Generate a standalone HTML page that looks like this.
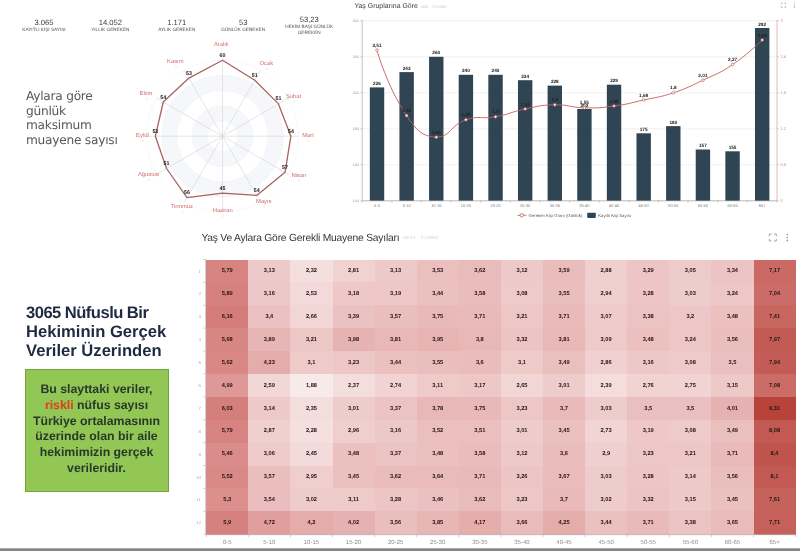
<!DOCTYPE html>
<html lang="tr">
<head>
<meta charset="utf-8">
<title>Yaş Ve Aylara Göre Gerekli Muayene Sayıları</title>
<style>
html,body{margin:0;padding:0;background:#fff;}
body{text-rendering:geometricPrecision;width:800px;height:551px;position:relative;overflow:hidden;font-family:"Liberation Sans",sans-serif;}
#page{position:absolute;left:0;top:0;width:800px;height:551px;overflow:hidden;filter:blur(0.45px);}
.stat{position:absolute;top:0;width:66px;text-align:center;color:#444;}
.stat .v{position:absolute;left:0;width:66px;font-size:7.6px;line-height:9px;color:#3a3a3a;}
.stat .l{position:absolute;left:-4px;width:74px;font-size:4.3px;line-height:6.4px;color:#555;letter-spacing:0.05px;}
.lefttxt{position:absolute;left:26px;top:89px;font-family:"DejaVu Sans","Liberation Sans",sans-serif;font-weight:400;font-size:12.2px;line-height:14.6px;color:#585858;letter-spacing:-0.25px;}
.bigtitle{position:absolute;left:26px;top:303px;font-family:"Liberation Sans",sans-serif;font-weight:700;font-size:16.6px;line-height:19.1px;color:#1f2a40;white-space:nowrap;}
.green{position:absolute;left:24.5px;top:368.5px;width:144px;height:123px;background:#92c655;border:1px solid #6fa53a;box-sizing:border-box;}
.green p{margin:0;position:absolute;left:0;top:12.5px;width:100%;text-align:center;font-weight:700;font-size:12.3px;line-height:15.75px;color:#27392a;white-space:nowrap;}
.green .r{color:#e23a1c;}
svg{position:absolute;left:0;top:0;overflow:visible;}
svg text{font-family:"Liberation Sans",sans-serif;text-rendering:geometricPrecision;}
.bottombar{position:absolute;left:0;top:548px;width:800px;height:3px;background:linear-gradient(#c9c9c9 0,#8a8a8a 1px,#7f7f7f 3px);}
</style>
</head>
<body>
<div id="page">

<div class="lefttxt">Aylara göre<br>günlük<br>maksimum<br>muayene sayısı</div>
<div class="bigtitle"><span style="letter-spacing:-0.54px">3065 Nüfuslu Bir</span><br>Hekiminin Gerçek<br>Veriler Üzerinden</div>
<div class="green"><p>Bu slayttaki veriler,<br><span class="r">riskli</span> nüfus sayısı<br>Türkiye ortalamasının<br>üzerinde olan bir aile<br>hekimimizin gerçek<br>verileridir.</p></div>
<svg width="800" height="551" viewBox="0 0 800 551">
<g id="stats">
<text x="44" y="24.6" font-size="7.6" fill="#3c3c3c" text-anchor="middle">3.065</text>
<text x="44" y="31" font-size="4.7" fill="#4c4c4c" text-anchor="middle">KAYITLI KİŞİ SAYISI</text>
<text x="110.3" y="24.6" font-size="7.6" fill="#3c3c3c" text-anchor="middle">14.052</text>
<text x="110.3" y="31" font-size="4.7" fill="#4c4c4c" text-anchor="middle">YILLIK GEREKEN</text>
<text x="176.8" y="24.6" font-size="7.6" fill="#3c3c3c" text-anchor="middle">1.171</text>
<text x="176.8" y="31" font-size="4.7" fill="#4c4c4c" text-anchor="middle">AYLIK GEREKEN</text>
<text x="243.2" y="24.6" font-size="7.6" fill="#3c3c3c" text-anchor="middle">53</text>
<text x="243.2" y="31" font-size="4.7" fill="#4c4c4c" text-anchor="middle">GÜNLÜK GEREKEN</text>
<text x="309.2" y="21.6" font-size="7.6" fill="#3c3c3c" text-anchor="middle">53,23</text>
<text x="309.2" y="28" font-size="4.7" fill="#4c4c4c" text-anchor="middle">HEKİM BAŞI GÜNLÜK</text>
<text x="309.2" y="34.4" font-size="4.7" fill="#4c4c4c" text-anchor="middle">GEREKEN</text>
</g>
<g id="radar">
<circle cx="222.5" cy="136.2" r="76" fill="#ffffff" stroke="#eceef3" stroke-width="0.4"/>
<circle cx="222.5" cy="136.2" r="60.8" fill="#f6f7fb" stroke="#eceef3" stroke-width="0.4"/>
<circle cx="222.5" cy="136.2" r="45.6" fill="#ffffff" stroke="#eceef3" stroke-width="0.4"/>
<circle cx="222.5" cy="136.2" r="30.4" fill="#f6f7fb" stroke="#eceef3" stroke-width="0.4"/>
<circle cx="222.5" cy="136.2" r="15.2" fill="#ffffff" stroke="#eceef3" stroke-width="0.4"/>
<line x1="222.5" y1="136.2" x2="222.5" y2="60.2" stroke="#d2d4da" stroke-width="0.6"/>
<line x1="222.5" y1="136.2" x2="260.5" y2="70.38" stroke="#d2d4da" stroke-width="0.6"/>
<line x1="222.5" y1="136.2" x2="288.32" y2="98.2" stroke="#d2d4da" stroke-width="0.6"/>
<line x1="222.5" y1="136.2" x2="298.5" y2="136.2" stroke="#d2d4da" stroke-width="0.6"/>
<line x1="222.5" y1="136.2" x2="288.32" y2="174.2" stroke="#d2d4da" stroke-width="0.6"/>
<line x1="222.5" y1="136.2" x2="260.5" y2="202.02" stroke="#d2d4da" stroke-width="0.6"/>
<line x1="222.5" y1="136.2" x2="222.5" y2="212.2" stroke="#d2d4da" stroke-width="0.6"/>
<line x1="222.5" y1="136.2" x2="184.5" y2="202.02" stroke="#d2d4da" stroke-width="0.6"/>
<line x1="222.5" y1="136.2" x2="156.68" y2="174.2" stroke="#d2d4da" stroke-width="0.6"/>
<line x1="222.5" y1="136.2" x2="146.5" y2="136.2" stroke="#d2d4da" stroke-width="0.6"/>
<line x1="222.5" y1="136.2" x2="156.68" y2="98.2" stroke="#d2d4da" stroke-width="0.6"/>
<line x1="222.5" y1="136.2" x2="184.5" y2="70.38" stroke="#d2d4da" stroke-width="0.6"/>
<polygon points="222.5,60.2 254.8,80.25 278.45,103.9 290.9,136.2 285.03,172.3 256.7,195.44 222.5,193.2 187.03,197.63 166.55,168.5 155.37,136.2 163.26,102 188.93,78.06" fill="none" stroke="#a8635e" stroke-width="1.3" stroke-linejoin="round"/>
<text x="222.5" y="56.7" font-size="5.3" font-weight="700" fill="#222" text-anchor="middle">60</text>
<text x="254.8" y="76.75" font-size="5.3" font-weight="700" fill="#222" text-anchor="middle">51</text>
<text x="278.45" y="100.4" font-size="5.3" font-weight="700" fill="#222" text-anchor="middle">51</text>
<text x="290.9" y="132.7" font-size="5.3" font-weight="700" fill="#222" text-anchor="middle">54</text>
<text x="285.03" y="168.8" font-size="5.3" font-weight="700" fill="#222" text-anchor="middle">57</text>
<text x="256.7" y="191.94" font-size="5.3" font-weight="700" fill="#222" text-anchor="middle">54</text>
<text x="222.5" y="189.7" font-size="5.3" font-weight="700" fill="#222" text-anchor="middle">45</text>
<text x="187.03" y="194.13" font-size="5.3" font-weight="700" fill="#222" text-anchor="middle">56</text>
<text x="166.55" y="165" font-size="5.3" font-weight="700" fill="#222" text-anchor="middle">51</text>
<text x="155.37" y="132.7" font-size="5.3" font-weight="700" fill="#222" text-anchor="middle">53</text>
<text x="163.26" y="98.5" font-size="5.3" font-weight="700" fill="#222" text-anchor="middle">54</text>
<text x="188.93" y="74.56" font-size="5.3" font-weight="700" fill="#222" text-anchor="middle">53</text>
<text x="221.3" y="46.2" font-size="5.8" fill="#d06c6c" text-anchor="middle">Aralık</text>
<text x="221.8" y="51.2" font-size="3.6" fill="#dcdcdc" text-anchor="middle">0</text>
<text x="266.3" y="64.6" font-size="5.8" fill="#d06c6c" text-anchor="middle">Ocak</text>
<text x="266.8" y="69.6" font-size="3.6" fill="#dcdcdc" text-anchor="middle">0</text>
<text x="293.5" y="97.5" font-size="5.8" fill="#d06c6c" text-anchor="middle">Şubat</text>
<text x="294" y="102.5" font-size="3.6" fill="#dcdcdc" text-anchor="middle">0</text>
<text x="308" y="137.1" font-size="5.8" fill="#d06c6c" text-anchor="middle">Mart</text>
<text x="308.5" y="142.1" font-size="3.6" fill="#dcdcdc" text-anchor="middle">0</text>
<text x="298.8" y="177.1" font-size="5.8" fill="#d06c6c" text-anchor="middle">Nisan</text>
<text x="299.3" y="182.1" font-size="3.6" fill="#dcdcdc" text-anchor="middle">0</text>
<text x="263.8" y="203" font-size="5.8" fill="#d06c6c" text-anchor="middle">Mayıs</text>
<text x="264.3" y="208" font-size="3.6" fill="#dcdcdc" text-anchor="middle">0</text>
<text x="222.7" y="211.5" font-size="5.8" fill="#d06c6c" text-anchor="middle">Haziran</text>
<text x="223.2" y="216.5" font-size="3.6" fill="#dcdcdc" text-anchor="middle">0</text>
<text x="182" y="208" font-size="5.8" fill="#d06c6c" text-anchor="middle">Temmuz</text>
<text x="182.5" y="213" font-size="3.6" fill="#dcdcdc" text-anchor="middle">0</text>
<text x="148.4" y="176.4" font-size="5.8" fill="#d06c6c" text-anchor="middle">Ağustos</text>
<text x="148.9" y="181.4" font-size="3.6" fill="#dcdcdc" text-anchor="middle">0</text>
<text x="142.4" y="137.1" font-size="5.8" fill="#d06c6c" text-anchor="middle">Eylül</text>
<text x="142.9" y="142.1" font-size="3.6" fill="#dcdcdc" text-anchor="middle">0</text>
<text x="146" y="95" font-size="5.8" fill="#d06c6c" text-anchor="middle">Ekim</text>
<text x="146.5" y="100" font-size="3.6" fill="#dcdcdc" text-anchor="middle">0</text>
<text x="175.3" y="62.8" font-size="5.8" fill="#d06c6c" text-anchor="middle">Kasım</text>
<text x="175.8" y="67.8" font-size="3.6" fill="#dcdcdc" text-anchor="middle">0</text>
</g>
<g id="barchart">
<text x="354.4" y="8.3" font-size="6.95" fill="#404040">Yaş Gruplarına Göre</text>
<text x="421.4" y="8" font-size="3.7" fill="#c4c4c4" letter-spacing="0.2">MIX · FL0984</text>
<line x1="360.2" y1="200.8" x2="362.2" y2="200.8" stroke="#aaa" stroke-width="0.5"/>
<text x="358.7" y="202" font-size="3.5" fill="#8f8f8f" text-anchor="end">100</text>
<line x1="362.2" y1="164.8" x2="777.0" y2="164.8" stroke="#e6e6e6" stroke-width="0.6"/>
<line x1="360.2" y1="164.8" x2="362.2" y2="164.8" stroke="#aaa" stroke-width="0.5"/>
<text x="358.7" y="166" font-size="3.5" fill="#8f8f8f" text-anchor="end">140</text>
<line x1="362.2" y1="128.8" x2="777.0" y2="128.8" stroke="#e6e6e6" stroke-width="0.6"/>
<line x1="360.2" y1="128.8" x2="362.2" y2="128.8" stroke="#aaa" stroke-width="0.5"/>
<text x="358.7" y="130" font-size="3.5" fill="#8f8f8f" text-anchor="end">180</text>
<line x1="362.2" y1="92.8" x2="777.0" y2="92.8" stroke="#e6e6e6" stroke-width="0.6"/>
<line x1="360.2" y1="92.8" x2="362.2" y2="92.8" stroke="#aaa" stroke-width="0.5"/>
<text x="358.7" y="94" font-size="3.5" fill="#8f8f8f" text-anchor="end">220</text>
<line x1="362.2" y1="56.8" x2="777.0" y2="56.8" stroke="#e6e6e6" stroke-width="0.6"/>
<line x1="360.2" y1="56.8" x2="362.2" y2="56.8" stroke="#aaa" stroke-width="0.5"/>
<text x="358.7" y="58" font-size="3.5" fill="#8f8f8f" text-anchor="end">260</text>
<line x1="362.2" y1="20.8" x2="777.0" y2="20.8" stroke="#e6e6e6" stroke-width="0.6"/>
<line x1="360.2" y1="20.8" x2="362.2" y2="20.8" stroke="#aaa" stroke-width="0.5"/>
<text x="358.7" y="22" font-size="3.5" fill="#8f8f8f" text-anchor="end">300</text>
<line x1="777.0" y1="200.8" x2="779.0" y2="200.8" stroke="#d99" stroke-width="0.5"/>
<text x="780.5" y="202" font-size="4" fill="#d88" text-anchor="start">0</text>
<line x1="777.0" y1="164.8" x2="779.0" y2="164.8" stroke="#d99" stroke-width="0.5"/>
<text x="780.5" y="166" font-size="4" fill="#d88" text-anchor="start">0.6</text>
<line x1="777.0" y1="128.8" x2="779.0" y2="128.8" stroke="#d99" stroke-width="0.5"/>
<text x="780.5" y="130" font-size="4" fill="#d88" text-anchor="start">1.2</text>
<line x1="777.0" y1="92.8" x2="779.0" y2="92.8" stroke="#d99" stroke-width="0.5"/>
<text x="780.5" y="94" font-size="4" fill="#d88" text-anchor="start">1.8</text>
<line x1="777.0" y1="56.8" x2="779.0" y2="56.8" stroke="#d99" stroke-width="0.5"/>
<text x="780.5" y="58" font-size="4" fill="#d88" text-anchor="start">2.4</text>
<line x1="777.0" y1="20.8" x2="779.0" y2="20.8" stroke="#d99" stroke-width="0.5"/>
<text x="780.5" y="22" font-size="4" fill="#d88" text-anchor="start">3</text>
<rect x="369.81" y="87.4" width="14.4" height="113.4" fill="#2f4554"/>
<rect x="399.44" y="72.1" width="14.4" height="128.7" fill="#2f4554"/>
<rect x="429.07" y="56.8" width="14.4" height="144" fill="#2f4554"/>
<rect x="458.7" y="74.8" width="14.4" height="126" fill="#2f4554"/>
<rect x="488.33" y="74.8" width="14.4" height="126" fill="#2f4554"/>
<rect x="517.96" y="80.2" width="14.4" height="120.6" fill="#2f4554"/>
<rect x="547.59" y="85.6" width="14.4" height="115.2" fill="#2f4554"/>
<rect x="577.21" y="109" width="14.4" height="91.8" fill="#2f4554"/>
<rect x="606.84" y="84.7" width="14.4" height="116.1" fill="#2f4554"/>
<rect x="636.47" y="133.3" width="14.4" height="67.5" fill="#2f4554"/>
<rect x="666.1" y="126.1" width="14.4" height="74.7" fill="#2f4554"/>
<rect x="695.73" y="149.5" width="14.4" height="51.3" fill="#2f4554"/>
<rect x="725.36" y="151.3" width="14.4" height="49.5" fill="#2f4554"/>
<rect x="754.99" y="28" width="14.4" height="172.8" fill="#2f4554"/>
<line x1="362.2" y1="20" x2="362.2" y2="200.8" stroke="#999" stroke-width="0.6"/>
<line x1="777.0" y1="20" x2="777.0" y2="200.8" stroke="#d58a86" stroke-width="0.6"/>
<line x1="362.2" y1="200.8" x2="777.0" y2="200.8" stroke="#888" stroke-width="0.6"/>
<line x1="362.2" y1="200.8" x2="362.2" y2="202.60000000000002" stroke="#999" stroke-width="0.5"/>
<line x1="391.83" y1="200.8" x2="391.83" y2="202.60000000000002" stroke="#999" stroke-width="0.5"/>
<line x1="421.46" y1="200.8" x2="421.46" y2="202.60000000000002" stroke="#999" stroke-width="0.5"/>
<line x1="451.09" y1="200.8" x2="451.09" y2="202.60000000000002" stroke="#999" stroke-width="0.5"/>
<line x1="480.71" y1="200.8" x2="480.71" y2="202.60000000000002" stroke="#999" stroke-width="0.5"/>
<line x1="510.34" y1="200.8" x2="510.34" y2="202.60000000000002" stroke="#999" stroke-width="0.5"/>
<line x1="539.97" y1="200.8" x2="539.97" y2="202.60000000000002" stroke="#999" stroke-width="0.5"/>
<line x1="569.6" y1="200.8" x2="569.6" y2="202.60000000000002" stroke="#999" stroke-width="0.5"/>
<line x1="599.23" y1="200.8" x2="599.23" y2="202.60000000000002" stroke="#999" stroke-width="0.5"/>
<line x1="628.86" y1="200.8" x2="628.86" y2="202.60000000000002" stroke="#999" stroke-width="0.5"/>
<line x1="658.49" y1="200.8" x2="658.49" y2="202.60000000000002" stroke="#999" stroke-width="0.5"/>
<line x1="688.11" y1="200.8" x2="688.11" y2="202.60000000000002" stroke="#999" stroke-width="0.5"/>
<line x1="717.74" y1="200.8" x2="717.74" y2="202.60000000000002" stroke="#999" stroke-width="0.5"/>
<line x1="747.37" y1="200.8" x2="747.37" y2="202.60000000000002" stroke="#999" stroke-width="0.5"/>
<line x1="777" y1="200.8" x2="777" y2="202.60000000000002" stroke="#999" stroke-width="0.5"/>
<text x="377.01" y="207.2" font-size="4" fill="#7d7d7d" text-anchor="middle">0-5</text>
<text x="406.64" y="207.2" font-size="4" fill="#7d7d7d" text-anchor="middle">5-10</text>
<text x="436.27" y="207.2" font-size="4" fill="#7d7d7d" text-anchor="middle">10-15</text>
<text x="465.9" y="207.2" font-size="4" fill="#7d7d7d" text-anchor="middle">15-20</text>
<text x="495.53" y="207.2" font-size="4" fill="#7d7d7d" text-anchor="middle">20-25</text>
<text x="525.16" y="207.2" font-size="4" fill="#7d7d7d" text-anchor="middle">25-30</text>
<text x="554.79" y="207.2" font-size="4" fill="#7d7d7d" text-anchor="middle">30-35</text>
<text x="584.41" y="207.2" font-size="4" fill="#7d7d7d" text-anchor="middle">35-40</text>
<text x="614.04" y="207.2" font-size="4" fill="#7d7d7d" text-anchor="middle">40-45</text>
<text x="643.67" y="207.2" font-size="4" fill="#7d7d7d" text-anchor="middle">45-50</text>
<text x="673.3" y="207.2" font-size="4" fill="#7d7d7d" text-anchor="middle">50-55</text>
<text x="702.93" y="207.2" font-size="4" fill="#7d7d7d" text-anchor="middle">55-60</text>
<text x="732.56" y="207.2" font-size="4" fill="#7d7d7d" text-anchor="middle">60-65</text>
<text x="762.19" y="207.2" font-size="4" fill="#7d7d7d" text-anchor="middle">65+</text>
<text x="377.01" y="84.9" font-size="4.7" font-weight="700" fill="#222" text-anchor="middle">226</text>
<text x="406.64" y="69.6" font-size="4.7" font-weight="700" fill="#222" text-anchor="middle">243</text>
<text x="436.27" y="54.3" font-size="4.7" font-weight="700" fill="#222" text-anchor="middle">260</text>
<text x="465.9" y="72.3" font-size="4.7" font-weight="700" fill="#222" text-anchor="middle">240</text>
<text x="495.53" y="72.3" font-size="4.7" font-weight="700" fill="#222" text-anchor="middle">240</text>
<text x="525.16" y="77.7" font-size="4.7" font-weight="700" fill="#222" text-anchor="middle">234</text>
<text x="554.79" y="83.1" font-size="4.7" font-weight="700" fill="#222" text-anchor="middle">228</text>
<text x="584.41" y="106.5" font-size="4.7" font-weight="700" fill="#222" text-anchor="middle">202</text>
<text x="614.04" y="82.2" font-size="4.7" font-weight="700" fill="#222" text-anchor="middle">229</text>
<text x="643.67" y="130.8" font-size="4.7" font-weight="700" fill="#222" text-anchor="middle">175</text>
<text x="673.3" y="123.6" font-size="4.7" font-weight="700" fill="#222" text-anchor="middle">183</text>
<text x="702.93" y="147" font-size="4.7" font-weight="700" fill="#222" text-anchor="middle">157</text>
<text x="732.56" y="148.8" font-size="4.7" font-weight="700" fill="#222" text-anchor="middle">155</text>
<text x="762.19" y="25.5" font-size="4.7" font-weight="700" fill="#222" text-anchor="middle">292</text>
<path d="M377.01,50.2 C377.01,50.2 387.03,86.81 406.64,115.6 C416.66,130.31 420.98,136.12 436.27,137.2 C450.6,137.2 450.03,125.26 465.9,119.8 C479.66,115.06 480.92,119.46 495.53,116.8 C510.55,114.06 510.17,112.04 525.16,109 C539.8,106.04 539.94,105.1 554.79,104.8 C569.56,104.5 569.58,107.5 584.41,107.8 C599.2,108.1 599.36,107.93 614.04,106 C628.99,104.03 628.92,103.29 643.67,100 C658.55,96.69 658.89,97.62 673.3,92.8 C688.52,87.72 688.4,87.11 702.93,80.2 C718.03,73.01 718.78,73.95 732.56,64.6 C748.41,53.85 762.19,40 762.19,40" fill="none" stroke="#c0615c" stroke-width="0.9"/>
<circle cx="377.01" cy="50.2" r="1.35" fill="#fff" stroke="#c0615c" stroke-width="0.7"/>
<circle cx="406.64" cy="115.6" r="1.35" fill="#fff" stroke="#c0615c" stroke-width="0.7"/>
<circle cx="436.27" cy="137.2" r="1.35" fill="#fff" stroke="#c0615c" stroke-width="0.7"/>
<circle cx="465.9" cy="119.8" r="1.35" fill="#fff" stroke="#c0615c" stroke-width="0.7"/>
<circle cx="495.53" cy="116.8" r="1.35" fill="#fff" stroke="#c0615c" stroke-width="0.7"/>
<circle cx="525.16" cy="109" r="1.35" fill="#fff" stroke="#c0615c" stroke-width="0.7"/>
<circle cx="554.79" cy="104.8" r="1.35" fill="#fff" stroke="#c0615c" stroke-width="0.7"/>
<circle cx="584.41" cy="107.8" r="1.35" fill="#fff" stroke="#c0615c" stroke-width="0.7"/>
<circle cx="614.04" cy="106" r="1.35" fill="#fff" stroke="#c0615c" stroke-width="0.7"/>
<circle cx="643.67" cy="100" r="1.35" fill="#fff" stroke="#c0615c" stroke-width="0.7"/>
<circle cx="673.3" cy="92.8" r="1.35" fill="#fff" stroke="#c0615c" stroke-width="0.7"/>
<circle cx="702.93" cy="80.2" r="1.35" fill="#fff" stroke="#c0615c" stroke-width="0.7"/>
<circle cx="732.56" cy="64.6" r="1.35" fill="#fff" stroke="#c0615c" stroke-width="0.7"/>
<circle cx="762.19" cy="40" r="1.35" fill="#fff" stroke="#c0615c" stroke-width="0.7"/>
<text x="377.01" y="46.7" font-size="4.7" font-weight="700" fill="#222" text-anchor="middle">2,51</text>
<text x="406.64" y="112.1" font-size="4.7" font-weight="700" fill="#222" text-anchor="middle">1,42</text>
<text x="436.27" y="133.7" font-size="4.7" font-weight="700" fill="#222" text-anchor="middle">1,06</text>
<text x="465.9" y="116.3" font-size="4.7" font-weight="700" fill="#222" text-anchor="middle">1,35</text>
<text x="495.53" y="113.3" font-size="4.7" font-weight="700" fill="#222" text-anchor="middle">1,4</text>
<text x="525.16" y="105.5" font-size="4.7" font-weight="700" fill="#222" text-anchor="middle">1,53</text>
<text x="554.79" y="101.3" font-size="4.7" font-weight="700" fill="#222" text-anchor="middle">1,6</text>
<text x="584.41" y="104.3" font-size="4.7" font-weight="700" fill="#222" text-anchor="middle">1,55</text>
<text x="614.04" y="102.5" font-size="4.7" font-weight="700" fill="#222" text-anchor="middle">1,58</text>
<text x="643.67" y="96.5" font-size="4.7" font-weight="700" fill="#222" text-anchor="middle">1,68</text>
<text x="673.3" y="89.3" font-size="4.7" font-weight="700" fill="#222" text-anchor="middle">1,8</text>
<text x="702.93" y="76.7" font-size="4.7" font-weight="700" fill="#222" text-anchor="middle">2,01</text>
<text x="732.56" y="61.1" font-size="4.7" font-weight="700" fill="#222" text-anchor="middle">2,27</text>
<text x="762.19" y="36.5" font-size="4.7" font-weight="700" fill="#222" text-anchor="middle">2,68</text>
<line x1="517.5" y1="215.3" x2="526.2" y2="215.3" stroke="#c4625c" stroke-width="0.9"/>
<circle cx="521.8" cy="215.3" r="1.7" fill="#fff" stroke="#c4625c" stroke-width="0.8"/>
<text x="528.6" y="216.7" font-size="4.25" fill="#555">Gereken Kişi Oranı (Günlük)</text>
<rect x="587.2" y="212.7" width="8.6" height="5.2" rx="0.8" fill="#2f4554"/>
<text x="598.2" y="216.7" font-size="4.25" fill="#555">Kayıtlı Kişi Sayısı</text>
<path d="M781.3,4.41 V3 H782.71 M784.29,3 H785.7 V4.41 M785.7,5.99 V7.4 H784.29 M782.71,7.4 H781.3 V5.99" fill="none" stroke="#9a9a9a" stroke-width="0.57"/>
<circle cx="794.3" cy="3.22" r="0.57" fill="#9a9a9a"/><circle cx="794.3" cy="5.2" r="0.57" fill="#9a9a9a"/><circle cx="794.3" cy="7.18" r="0.57" fill="#9a9a9a"/>
</g>
<g id="heatmap">
<text x="201.4" y="241" font-size="10.3" letter-spacing="-0.22" fill="#363636">Yaş Ve Aylara Göre Gerekli Muayene Sayıları</text>
<text x="403" y="239.3" font-size="4.4" fill="#cfcfcf" letter-spacing="0.45">HEAT · FL0982</text>
<path d="M769.3,236.24 V234 H771.54 M774.06,234 H776.3 V236.24 M776.3,238.76 V241 H774.06 M771.54,241 H769.3 V238.76" fill="none" stroke="#9a9a9a" stroke-width="0.91"/>
<circle cx="787.3" cy="234.54" r="0.86" fill="#9a9a9a"/><circle cx="787.3" cy="237.5" r="0.86" fill="#9a9a9a"/><circle cx="787.3" cy="240.46" r="0.86" fill="#9a9a9a"/>
<rect x="206.2" y="259.5" width="42.6" height="23.39" shape-rendering="crispEdges" fill="#d78381"/>
<rect x="248.3" y="259.5" width="42.6" height="23.39" shape-rendering="crispEdges" fill="#edc9c9"/>
<rect x="290.4" y="259.5" width="42.6" height="23.39" shape-rendering="crispEdges" fill="#f4dede"/>
<rect x="332.5" y="259.5" width="42.6" height="23.39" shape-rendering="crispEdges" fill="#f0d2d1"/>
<rect x="374.6" y="259.5" width="42.6" height="23.39" shape-rendering="crispEdges" fill="#edc9c9"/>
<rect x="416.7" y="259.5" width="42.6" height="23.39" shape-rendering="crispEdges" fill="#eabfbe"/>
<rect x="458.8" y="259.5" width="42.6" height="23.39" shape-rendering="crispEdges" fill="#e9bcbb"/>
<rect x="500.9" y="259.5" width="42.6" height="23.39" shape-rendering="crispEdges" fill="#eec9c9"/>
<rect x="543" y="259.5" width="42.6" height="23.39" shape-rendering="crispEdges" fill="#eabdbc"/>
<rect x="585.1" y="259.5" width="42.6" height="23.39" shape-rendering="crispEdges" fill="#f0d0cf"/>
<rect x="627.2" y="259.5" width="42.6" height="23.39" shape-rendering="crispEdges" fill="#ecc5c4"/>
<rect x="669.3" y="259.5" width="42.6" height="23.39" shape-rendering="crispEdges" fill="#eecbcb"/>
<rect x="711.4" y="259.5" width="42.6" height="23.39" shape-rendering="crispEdges" fill="#ecc4c3"/>
<rect x="753.5" y="259.5" width="42.6" height="23.39" shape-rendering="crispEdges" fill="#cb6a65"/>
<rect x="206.2" y="282.39" width="42.6" height="23.39" shape-rendering="crispEdges" fill="#d6817f"/>
<rect x="248.3" y="282.39" width="42.6" height="23.39" shape-rendering="crispEdges" fill="#edc8c8"/>
<rect x="290.4" y="282.39" width="42.6" height="23.39" shape-rendering="crispEdges" fill="#f3d9d9"/>
<rect x="332.5" y="282.39" width="42.6" height="23.39" shape-rendering="crispEdges" fill="#edc8c7"/>
<rect x="374.6" y="282.39" width="42.6" height="23.39" shape-rendering="crispEdges" fill="#edc8c7"/>
<rect x="416.7" y="282.39" width="42.6" height="23.39" shape-rendering="crispEdges" fill="#ebc1c0"/>
<rect x="458.8" y="282.39" width="42.6" height="23.39" shape-rendering="crispEdges" fill="#eabdbc"/>
<rect x="500.9" y="282.39" width="42.6" height="23.39" shape-rendering="crispEdges" fill="#eecaca"/>
<rect x="543" y="282.39" width="42.6" height="23.39" shape-rendering="crispEdges" fill="#eabebd"/>
<rect x="585.1" y="282.39" width="42.6" height="23.39" shape-rendering="crispEdges" fill="#efcece"/>
<rect x="627.2" y="282.39" width="42.6" height="23.39" shape-rendering="crispEdges" fill="#ecc5c4"/>
<rect x="669.3" y="282.39" width="42.6" height="23.39" shape-rendering="crispEdges" fill="#eecccb"/>
<rect x="711.4" y="282.39" width="42.6" height="23.39" shape-rendering="crispEdges" fill="#edc6c6"/>
<rect x="753.5" y="282.39" width="42.6" height="23.39" shape-rendering="crispEdges" fill="#cc6c68"/>
<rect x="206.2" y="305.28" width="42.6" height="23.39" shape-rendering="crispEdges" fill="#d47c7a"/>
<rect x="248.3" y="305.28" width="42.6" height="23.39" shape-rendering="crispEdges" fill="#ebc2c1"/>
<rect x="290.4" y="305.28" width="42.6" height="23.39" shape-rendering="crispEdges" fill="#f1d6d5"/>
<rect x="332.5" y="305.28" width="42.6" height="23.39" shape-rendering="crispEdges" fill="#ebc2c2"/>
<rect x="374.6" y="305.28" width="42.6" height="23.39" shape-rendering="crispEdges" fill="#eabebd"/>
<rect x="416.7" y="305.28" width="42.6" height="23.39" shape-rendering="crispEdges" fill="#e8b9b8"/>
<rect x="458.8" y="305.28" width="42.6" height="23.39" shape-rendering="crispEdges" fill="#e9bab9"/>
<rect x="500.9" y="305.28" width="42.6" height="23.39" shape-rendering="crispEdges" fill="#edc7c6"/>
<rect x="543" y="305.28" width="42.6" height="23.39" shape-rendering="crispEdges" fill="#e9bab9"/>
<rect x="585.1" y="305.28" width="42.6" height="23.39" shape-rendering="crispEdges" fill="#eecbca"/>
<rect x="627.2" y="305.28" width="42.6" height="23.39" shape-rendering="crispEdges" fill="#ebc3c2"/>
<rect x="669.3" y="305.28" width="42.6" height="23.39" shape-rendering="crispEdges" fill="#edc7c7"/>
<rect x="711.4" y="305.28" width="42.6" height="23.39" shape-rendering="crispEdges" fill="#ebc0bf"/>
<rect x="753.5" y="305.28" width="42.6" height="23.39" shape-rendering="crispEdges" fill="#c86660"/>
<rect x="206.2" y="328.18" width="42.6" height="23.39" shape-rendering="crispEdges" fill="#d88684"/>
<rect x="248.3" y="328.18" width="42.6" height="23.39" shape-rendering="crispEdges" fill="#e7b5b4"/>
<rect x="290.4" y="328.18" width="42.6" height="23.39" shape-rendering="crispEdges" fill="#edc7c6"/>
<rect x="332.5" y="328.18" width="42.6" height="23.39" shape-rendering="crispEdges" fill="#e6b3b2"/>
<rect x="374.6" y="328.18" width="42.6" height="23.39" shape-rendering="crispEdges" fill="#e8b7b6"/>
<rect x="416.7" y="328.18" width="42.6" height="23.39" shape-rendering="crispEdges" fill="#e7b4b3"/>
<rect x="458.8" y="328.18" width="42.6" height="23.39" shape-rendering="crispEdges" fill="#e8b8b7"/>
<rect x="500.9" y="328.18" width="42.6" height="23.39" shape-rendering="crispEdges" fill="#ecc4c3"/>
<rect x="543" y="328.18" width="42.6" height="23.39" shape-rendering="crispEdges" fill="#e8b7b6"/>
<rect x="585.1" y="328.18" width="42.6" height="23.39" shape-rendering="crispEdges" fill="#eecaca"/>
<rect x="627.2" y="328.18" width="42.6" height="23.39" shape-rendering="crispEdges" fill="#ebc0bf"/>
<rect x="669.3" y="328.18" width="42.6" height="23.39" shape-rendering="crispEdges" fill="#edc6c6"/>
<rect x="711.4" y="328.18" width="42.6" height="23.39" shape-rendering="crispEdges" fill="#eabebd"/>
<rect x="753.5" y="328.18" width="42.6" height="23.39" shape-rendering="crispEdges" fill="#c35b55"/>
<rect x="206.2" y="351.07" width="42.6" height="23.39" shape-rendering="crispEdges" fill="#d98886"/>
<rect x="248.3" y="351.07" width="42.6" height="23.39" shape-rendering="crispEdges" fill="#e4acab"/>
<rect x="290.4" y="351.07" width="42.6" height="23.39" shape-rendering="crispEdges" fill="#eecac9"/>
<rect x="332.5" y="351.07" width="42.6" height="23.39" shape-rendering="crispEdges" fill="#edc7c6"/>
<rect x="374.6" y="351.07" width="42.6" height="23.39" shape-rendering="crispEdges" fill="#ebc1c0"/>
<rect x="416.7" y="351.07" width="42.6" height="23.39" shape-rendering="crispEdges" fill="#eabebd"/>
<rect x="458.8" y="351.07" width="42.6" height="23.39" shape-rendering="crispEdges" fill="#eabdbc"/>
<rect x="500.9" y="351.07" width="42.6" height="23.39" shape-rendering="crispEdges" fill="#eecac9"/>
<rect x="543" y="351.07" width="42.6" height="23.39" shape-rendering="crispEdges" fill="#eac0bf"/>
<rect x="585.1" y="351.07" width="42.6" height="23.39" shape-rendering="crispEdges" fill="#f0d0d0"/>
<rect x="627.2" y="351.07" width="42.6" height="23.39" shape-rendering="crispEdges" fill="#edc8c8"/>
<rect x="669.3" y="351.07" width="42.6" height="23.39" shape-rendering="crispEdges" fill="#eecaca"/>
<rect x="711.4" y="351.07" width="42.6" height="23.39" shape-rendering="crispEdges" fill="#eabfbf"/>
<rect x="753.5" y="351.07" width="42.6" height="23.39" shape-rendering="crispEdges" fill="#c35c56"/>
<rect x="206.2" y="373.96" width="42.6" height="23.39" shape-rendering="crispEdges" fill="#de9897"/>
<rect x="248.3" y="373.96" width="42.6" height="23.39" shape-rendering="crispEdges" fill="#f2d7d7"/>
<rect x="290.4" y="373.96" width="42.6" height="23.39" shape-rendering="crispEdges" fill="#f8eaea"/>
<rect x="332.5" y="373.96" width="42.6" height="23.39" shape-rendering="crispEdges" fill="#f4dddd"/>
<rect x="374.6" y="373.96" width="42.6" height="23.39" shape-rendering="crispEdges" fill="#f1d3d3"/>
<rect x="416.7" y="373.96" width="42.6" height="23.39" shape-rendering="crispEdges" fill="#eecac9"/>
<rect x="458.8" y="373.96" width="42.6" height="23.39" shape-rendering="crispEdges" fill="#edc8c7"/>
<rect x="500.9" y="373.96" width="42.6" height="23.39" shape-rendering="crispEdges" fill="#f2d6d5"/>
<rect x="543" y="373.96" width="42.6" height="23.39" shape-rendering="crispEdges" fill="#eecccc"/>
<rect x="585.1" y="373.96" width="42.6" height="23.39" shape-rendering="crispEdges" fill="#f4dddc"/>
<rect x="627.2" y="373.96" width="42.6" height="23.39" shape-rendering="crispEdges" fill="#f1d3d2"/>
<rect x="669.3" y="373.96" width="42.6" height="23.39" shape-rendering="crispEdges" fill="#f1d3d3"/>
<rect x="711.4" y="373.96" width="42.6" height="23.39" shape-rendering="crispEdges" fill="#edc9c8"/>
<rect x="753.5" y="373.96" width="42.6" height="23.39" shape-rendering="crispEdges" fill="#cb6c67"/>
<rect x="206.2" y="396.85" width="42.6" height="23.39" shape-rendering="crispEdges" fill="#d57f7c"/>
<rect x="248.3" y="396.85" width="42.6" height="23.39" shape-rendering="crispEdges" fill="#edc9c8"/>
<rect x="290.4" y="396.85" width="42.6" height="23.39" shape-rendering="crispEdges" fill="#f4dedd"/>
<rect x="332.5" y="396.85" width="42.6" height="23.39" shape-rendering="crispEdges" fill="#eecccc"/>
<rect x="374.6" y="396.85" width="42.6" height="23.39" shape-rendering="crispEdges" fill="#ebc3c2"/>
<rect x="416.7" y="396.85" width="42.6" height="23.39" shape-rendering="crispEdges" fill="#e8b8b7"/>
<rect x="458.8" y="396.85" width="42.6" height="23.39" shape-rendering="crispEdges" fill="#e8b9b8"/>
<rect x="500.9" y="396.85" width="42.6" height="23.39" shape-rendering="crispEdges" fill="#edc7c6"/>
<rect x="543" y="396.85" width="42.6" height="23.39" shape-rendering="crispEdges" fill="#e9bab9"/>
<rect x="585.1" y="396.85" width="42.6" height="23.39" shape-rendering="crispEdges" fill="#eecccb"/>
<rect x="627.2" y="396.85" width="42.6" height="23.39" shape-rendering="crispEdges" fill="#eabfbf"/>
<rect x="669.3" y="396.85" width="42.6" height="23.39" shape-rendering="crispEdges" fill="#eabfbf"/>
<rect x="711.4" y="396.85" width="42.6" height="23.39" shape-rendering="crispEdges" fill="#e6b2b1"/>
<rect x="753.5" y="396.85" width="42.6" height="23.39" shape-rendering="crispEdges" fill="#b7433a"/>
<rect x="206.2" y="419.74" width="42.6" height="23.39" shape-rendering="crispEdges" fill="#d78381"/>
<rect x="248.3" y="419.74" width="42.6" height="23.39" shape-rendering="crispEdges" fill="#f0d0cf"/>
<rect x="290.4" y="419.74" width="42.6" height="23.39" shape-rendering="crispEdges" fill="#f5dfdf"/>
<rect x="332.5" y="419.74" width="42.6" height="23.39" shape-rendering="crispEdges" fill="#efcecd"/>
<rect x="374.6" y="419.74" width="42.6" height="23.39" shape-rendering="crispEdges" fill="#edc8c8"/>
<rect x="416.7" y="419.74" width="42.6" height="23.39" shape-rendering="crispEdges" fill="#eabfbe"/>
<rect x="458.8" y="419.74" width="42.6" height="23.39" shape-rendering="crispEdges" fill="#eabfbe"/>
<rect x="500.9" y="419.74" width="42.6" height="23.39" shape-rendering="crispEdges" fill="#eecccc"/>
<rect x="543" y="419.74" width="42.6" height="23.39" shape-rendering="crispEdges" fill="#ebc1c0"/>
<rect x="585.1" y="419.74" width="42.6" height="23.39" shape-rendering="crispEdges" fill="#f1d4d3"/>
<rect x="627.2" y="419.74" width="42.6" height="23.39" shape-rendering="crispEdges" fill="#edc8c7"/>
<rect x="669.3" y="419.74" width="42.6" height="23.39" shape-rendering="crispEdges" fill="#eecaca"/>
<rect x="711.4" y="419.74" width="42.6" height="23.39" shape-rendering="crispEdges" fill="#eac0bf"/>
<rect x="753.5" y="419.74" width="42.6" height="23.39" shape-rendering="crispEdges" fill="#c25953"/>
<rect x="206.2" y="442.63" width="42.6" height="23.39" shape-rendering="crispEdges" fill="#da8c8a"/>
<rect x="248.3" y="442.63" width="42.6" height="23.39" shape-rendering="crispEdges" fill="#eecbca"/>
<rect x="290.4" y="442.63" width="42.6" height="23.39" shape-rendering="crispEdges" fill="#f3dbdb"/>
<rect x="332.5" y="442.63" width="42.6" height="23.39" shape-rendering="crispEdges" fill="#ebc0bf"/>
<rect x="374.6" y="442.63" width="42.6" height="23.39" shape-rendering="crispEdges" fill="#ebc3c2"/>
<rect x="416.7" y="442.63" width="42.6" height="23.39" shape-rendering="crispEdges" fill="#ebc0bf"/>
<rect x="458.8" y="442.63" width="42.6" height="23.39" shape-rendering="crispEdges" fill="#eabdbc"/>
<rect x="500.9" y="442.63" width="42.6" height="23.39" shape-rendering="crispEdges" fill="#eec9c9"/>
<rect x="543" y="442.63" width="42.6" height="23.39" shape-rendering="crispEdges" fill="#eabdbc"/>
<rect x="585.1" y="442.63" width="42.6" height="23.39" shape-rendering="crispEdges" fill="#efcfcf"/>
<rect x="627.2" y="442.63" width="42.6" height="23.39" shape-rendering="crispEdges" fill="#edc7c6"/>
<rect x="669.3" y="442.63" width="42.6" height="23.39" shape-rendering="crispEdges" fill="#edc7c6"/>
<rect x="711.4" y="442.63" width="42.6" height="23.39" shape-rendering="crispEdges" fill="#e9bab9"/>
<rect x="753.5" y="442.63" width="42.6" height="23.39" shape-rendering="crispEdges" fill="#bf544c"/>
<rect x="206.2" y="465.53" width="42.6" height="23.39" shape-rendering="crispEdges" fill="#d98a88"/>
<rect x="248.3" y="465.53" width="42.6" height="23.39" shape-rendering="crispEdges" fill="#eabebd"/>
<rect x="290.4" y="465.53" width="42.6" height="23.39" shape-rendering="crispEdges" fill="#efcecd"/>
<rect x="332.5" y="465.53" width="42.6" height="23.39" shape-rendering="crispEdges" fill="#ebc1c0"/>
<rect x="374.6" y="465.53" width="42.6" height="23.39" shape-rendering="crispEdges" fill="#e9bcbb"/>
<rect x="416.7" y="465.53" width="42.6" height="23.39" shape-rendering="crispEdges" fill="#e9bcbb"/>
<rect x="458.8" y="465.53" width="42.6" height="23.39" shape-rendering="crispEdges" fill="#e9bab9"/>
<rect x="500.9" y="465.53" width="42.6" height="23.39" shape-rendering="crispEdges" fill="#ecc6c5"/>
<rect x="543" y="465.53" width="42.6" height="23.39" shape-rendering="crispEdges" fill="#e9bbba"/>
<rect x="585.1" y="465.53" width="42.6" height="23.39" shape-rendering="crispEdges" fill="#eecccb"/>
<rect x="627.2" y="465.53" width="42.6" height="23.39" shape-rendering="crispEdges" fill="#ecc5c4"/>
<rect x="669.3" y="465.53" width="42.6" height="23.39" shape-rendering="crispEdges" fill="#edc9c8"/>
<rect x="711.4" y="465.53" width="42.6" height="23.39" shape-rendering="crispEdges" fill="#eabebd"/>
<rect x="753.5" y="465.53" width="42.6" height="23.39" shape-rendering="crispEdges" fill="#c25952"/>
<rect x="206.2" y="488.42" width="42.6" height="23.39" shape-rendering="crispEdges" fill="#db908e"/>
<rect x="248.3" y="488.42" width="42.6" height="23.39" shape-rendering="crispEdges" fill="#eabebe"/>
<rect x="290.4" y="488.42" width="42.6" height="23.39" shape-rendering="crispEdges" fill="#eecccb"/>
<rect x="332.5" y="488.42" width="42.6" height="23.39" shape-rendering="crispEdges" fill="#eecac9"/>
<rect x="374.6" y="488.42" width="42.6" height="23.39" shape-rendering="crispEdges" fill="#ecc5c4"/>
<rect x="416.7" y="488.42" width="42.6" height="23.39" shape-rendering="crispEdges" fill="#ebc0c0"/>
<rect x="458.8" y="488.42" width="42.6" height="23.39" shape-rendering="crispEdges" fill="#e9bcbb"/>
<rect x="500.9" y="488.42" width="42.6" height="23.39" shape-rendering="crispEdges" fill="#edc7c6"/>
<rect x="543" y="488.42" width="42.6" height="23.39" shape-rendering="crispEdges" fill="#e9bab9"/>
<rect x="585.1" y="488.42" width="42.6" height="23.39" shape-rendering="crispEdges" fill="#eecccb"/>
<rect x="627.2" y="488.42" width="42.6" height="23.39" shape-rendering="crispEdges" fill="#ecc4c3"/>
<rect x="669.3" y="488.42" width="42.6" height="23.39" shape-rendering="crispEdges" fill="#edc9c8"/>
<rect x="711.4" y="488.42" width="42.6" height="23.39" shape-rendering="crispEdges" fill="#ebc1c0"/>
<rect x="753.5" y="488.42" width="42.6" height="23.39" shape-rendering="crispEdges" fill="#c6625c"/>
<rect x="206.2" y="511.31" width="42.6" height="23.39" shape-rendering="crispEdges" fill="#d6817f"/>
<rect x="248.3" y="511.31" width="42.6" height="23.39" shape-rendering="crispEdges" fill="#e09f9e"/>
<rect x="290.4" y="511.31" width="42.6" height="23.39" shape-rendering="crispEdges" fill="#e4adac"/>
<rect x="332.5" y="511.31" width="42.6" height="23.39" shape-rendering="crispEdges" fill="#e6b2b1"/>
<rect x="374.6" y="511.31" width="42.6" height="23.39" shape-rendering="crispEdges" fill="#eabebd"/>
<rect x="416.7" y="511.31" width="42.6" height="23.39" shape-rendering="crispEdges" fill="#e7b6b5"/>
<rect x="458.8" y="511.31" width="42.6" height="23.39" shape-rendering="crispEdges" fill="#e5aead"/>
<rect x="500.9" y="511.31" width="42.6" height="23.39" shape-rendering="crispEdges" fill="#e9bbba"/>
<rect x="543" y="511.31" width="42.6" height="23.39" shape-rendering="crispEdges" fill="#e4acab"/>
<rect x="585.1" y="511.31" width="42.6" height="23.39" shape-rendering="crispEdges" fill="#ebc1c0"/>
<rect x="627.2" y="511.31" width="42.6" height="23.39" shape-rendering="crispEdges" fill="#e9bab9"/>
<rect x="669.3" y="511.31" width="42.6" height="23.39" shape-rendering="crispEdges" fill="#ebc3c2"/>
<rect x="711.4" y="511.31" width="42.6" height="23.39" shape-rendering="crispEdges" fill="#e9bbbb"/>
<rect x="753.5" y="511.31" width="42.6" height="23.39" shape-rendering="crispEdges" fill="#c6605a"/>
<text y="272.25" font-size="5.7" font-weight="700" fill="#2a1616" text-anchor="middle"><tspan x="227.25">5,79</tspan><tspan x="269.35">3,13</tspan><tspan x="311.45">2,32</tspan><tspan x="353.55">2,81</tspan><tspan x="395.65">3,13</tspan><tspan x="437.75">3,53</tspan><tspan x="479.85">3,62</tspan><tspan x="521.95">3,12</tspan><tspan x="564.05">3,59</tspan><tspan x="606.15">2,88</tspan><tspan x="648.25">3,29</tspan><tspan x="690.35">3,05</tspan><tspan x="732.45">3,34</tspan><tspan x="774.55">7,17</tspan></text>
<text y="295.14" font-size="5.7" font-weight="700" fill="#2a1616" text-anchor="middle"><tspan x="227.25">5,89</tspan><tspan x="269.35">3,16</tspan><tspan x="311.45">2,53</tspan><tspan x="353.55">3,18</tspan><tspan x="395.65">3,19</tspan><tspan x="437.75">3,44</tspan><tspan x="479.85">3,58</tspan><tspan x="521.95">3,08</tspan><tspan x="564.05">3,55</tspan><tspan x="606.15">2,94</tspan><tspan x="648.25">3,28</tspan><tspan x="690.35">3,03</tspan><tspan x="732.45">3,24</tspan><tspan x="774.55">7,04</tspan></text>
<text y="318.03" font-size="5.7" font-weight="700" fill="#2a1616" text-anchor="middle"><tspan x="227.25">6,16</tspan><tspan x="269.35">3,4</tspan><tspan x="311.45">2,66</tspan><tspan x="353.55">3,39</tspan><tspan x="395.65">3,57</tspan><tspan x="437.75">3,75</tspan><tspan x="479.85">3,71</tspan><tspan x="521.95">3,21</tspan><tspan x="564.05">3,71</tspan><tspan x="606.15">3,07</tspan><tspan x="648.25">3,38</tspan><tspan x="690.35">3,2</tspan><tspan x="732.45">3,48</tspan><tspan x="774.55">7,41</tspan></text>
<text y="340.92" font-size="5.7" font-weight="700" fill="#2a1616" text-anchor="middle"><tspan x="227.25">5,68</tspan><tspan x="269.35">3,89</tspan><tspan x="311.45">3,21</tspan><tspan x="353.55">3,98</tspan><tspan x="395.65">3,81</tspan><tspan x="437.75">3,95</tspan><tspan x="479.85">3,8</tspan><tspan x="521.95">3,32</tspan><tspan x="564.05">3,81</tspan><tspan x="606.15">3,09</tspan><tspan x="648.25">3,48</tspan><tspan x="690.35">3,24</tspan><tspan x="732.45">3,56</tspan><tspan x="774.55">7,97</tspan></text>
<text y="363.81" font-size="5.7" font-weight="700" fill="#2a1616" text-anchor="middle"><tspan x="227.25">5,62</tspan><tspan x="269.35">4,23</tspan><tspan x="311.45">3,1</tspan><tspan x="353.55">3,23</tspan><tspan x="395.65">3,44</tspan><tspan x="437.75">3,55</tspan><tspan x="479.85">3,6</tspan><tspan x="521.95">3,1</tspan><tspan x="564.05">3,49</tspan><tspan x="606.15">2,86</tspan><tspan x="648.25">3,16</tspan><tspan x="690.35">3,08</tspan><tspan x="732.45">3,5</tspan><tspan x="774.55">7,94</tspan></text>
<text y="386.7" font-size="5.7" font-weight="700" fill="#2a1616" text-anchor="middle"><tspan x="227.25">4,99</tspan><tspan x="269.35">2,59</tspan><tspan x="311.45">1,88</tspan><tspan x="353.55">2,37</tspan><tspan x="395.65">2,74</tspan><tspan x="437.75">3,11</tspan><tspan x="479.85">3,17</tspan><tspan x="521.95">2,65</tspan><tspan x="564.05">3,01</tspan><tspan x="606.15">2,39</tspan><tspan x="648.25">2,76</tspan><tspan x="690.35">2,75</tspan><tspan x="732.45">3,15</tspan><tspan x="774.55">7,08</tspan></text>
<text y="409.6" font-size="5.7" font-weight="700" fill="#2a1616" text-anchor="middle"><tspan x="227.25">6,03</tspan><tspan x="269.35">3,14</tspan><tspan x="311.45">2,35</tspan><tspan x="353.55">3,01</tspan><tspan x="395.65">3,37</tspan><tspan x="437.75">3,78</tspan><tspan x="479.85">3,75</tspan><tspan x="521.95">3,23</tspan><tspan x="564.05">3,7</tspan><tspan x="606.15">3,03</tspan><tspan x="648.25">3,5</tspan><tspan x="690.35">3,5</tspan><tspan x="732.45">4,01</tspan><tspan x="774.55">9,31</tspan></text>
<text y="432.49" font-size="5.7" font-weight="700" fill="#2a1616" text-anchor="middle"><tspan x="227.25">5,79</tspan><tspan x="269.35">2,87</tspan><tspan x="311.45">2,28</tspan><tspan x="353.55">2,96</tspan><tspan x="395.65">3,16</tspan><tspan x="437.75">3,52</tspan><tspan x="479.85">3,51</tspan><tspan x="521.95">3,01</tspan><tspan x="564.05">3,45</tspan><tspan x="606.15">2,73</tspan><tspan x="648.25">3,19</tspan><tspan x="690.35">3,08</tspan><tspan x="732.45">3,49</tspan><tspan x="774.55">8,08</tspan></text>
<text y="455.38" font-size="5.7" font-weight="700" fill="#2a1616" text-anchor="middle"><tspan x="227.25">5,46</tspan><tspan x="269.35">3,06</tspan><tspan x="311.45">2,45</tspan><tspan x="353.55">3,48</tspan><tspan x="395.65">3,37</tspan><tspan x="437.75">3,48</tspan><tspan x="479.85">3,58</tspan><tspan x="521.95">3,12</tspan><tspan x="564.05">3,6</tspan><tspan x="606.15">2,9</tspan><tspan x="648.25">3,23</tspan><tspan x="690.35">3,21</tspan><tspan x="732.45">3,71</tspan><tspan x="774.55">8,4</tspan></text>
<text y="478.27" font-size="5.7" font-weight="700" fill="#2a1616" text-anchor="middle"><tspan x="227.25">5,52</tspan><tspan x="269.35">3,57</tspan><tspan x="311.45">2,95</tspan><tspan x="353.55">3,45</tspan><tspan x="395.65">3,62</tspan><tspan x="437.75">3,64</tspan><tspan x="479.85">3,71</tspan><tspan x="521.95">3,26</tspan><tspan x="564.05">3,67</tspan><tspan x="606.15">3,03</tspan><tspan x="648.25">3,28</tspan><tspan x="690.35">3,14</tspan><tspan x="732.45">3,56</tspan><tspan x="774.55">8,1</tspan></text>
<text y="501.16" font-size="5.7" font-weight="700" fill="#2a1616" text-anchor="middle"><tspan x="227.25">5,3</tspan><tspan x="269.35">3,54</tspan><tspan x="311.45">3,02</tspan><tspan x="353.55">3,11</tspan><tspan x="395.65">3,28</tspan><tspan x="437.75">3,46</tspan><tspan x="479.85">3,62</tspan><tspan x="521.95">3,23</tspan><tspan x="564.05">3,7</tspan><tspan x="606.15">3,02</tspan><tspan x="648.25">3,32</tspan><tspan x="690.35">3,15</tspan><tspan x="732.45">3,45</tspan><tspan x="774.55">7,61</tspan></text>
<text y="524.05" font-size="5.7" font-weight="700" fill="#2a1616" text-anchor="middle"><tspan x="227.25">5,9</tspan><tspan x="269.35">4,72</tspan><tspan x="311.45">4,2</tspan><tspan x="353.55">4,02</tspan><tspan x="395.65">3,56</tspan><tspan x="437.75">3,85</tspan><tspan x="479.85">4,17</tspan><tspan x="521.95">3,66</tspan><tspan x="564.05">4,25</tspan><tspan x="606.15">3,44</tspan><tspan x="648.25">3,71</tspan><tspan x="690.35">3,38</tspan><tspan x="732.45">3,65</tspan><tspan x="774.55">7,71</tspan></text>
<line x1="205.6" y1="259.5" x2="205.6" y2="534.8000000000001" stroke="#b9b9b9" stroke-width="0.7"/>
<line x1="205.6" y1="534.7" x2="795.6" y2="534.7" stroke="#b9b9b9" stroke-width="0.7"/>
<line x1="203.2" y1="259.5" x2="205.6" y2="259.5" stroke="#b0b0b0" stroke-width="0.6"/>
<line x1="203.2" y1="282.39" x2="205.6" y2="282.39" stroke="#b0b0b0" stroke-width="0.6"/>
<line x1="203.2" y1="305.28" x2="205.6" y2="305.28" stroke="#b0b0b0" stroke-width="0.6"/>
<line x1="203.2" y1="328.18" x2="205.6" y2="328.18" stroke="#b0b0b0" stroke-width="0.6"/>
<line x1="203.2" y1="351.07" x2="205.6" y2="351.07" stroke="#b0b0b0" stroke-width="0.6"/>
<line x1="203.2" y1="373.96" x2="205.6" y2="373.96" stroke="#b0b0b0" stroke-width="0.6"/>
<line x1="203.2" y1="396.85" x2="205.6" y2="396.85" stroke="#b0b0b0" stroke-width="0.6"/>
<line x1="203.2" y1="419.74" x2="205.6" y2="419.74" stroke="#b0b0b0" stroke-width="0.6"/>
<line x1="203.2" y1="442.63" x2="205.6" y2="442.63" stroke="#b0b0b0" stroke-width="0.6"/>
<line x1="203.2" y1="465.53" x2="205.6" y2="465.53" stroke="#b0b0b0" stroke-width="0.6"/>
<line x1="203.2" y1="488.42" x2="205.6" y2="488.42" stroke="#b0b0b0" stroke-width="0.6"/>
<line x1="203.2" y1="511.31" x2="205.6" y2="511.31" stroke="#b0b0b0" stroke-width="0.6"/>
<line x1="203.2" y1="534.2" x2="205.6" y2="534.2" stroke="#b0b0b0" stroke-width="0.6"/>
<line x1="206.2" y1="534.7" x2="206.2" y2="537.2" stroke="#b0b0b0" stroke-width="0.6"/>
<line x1="248.3" y1="534.7" x2="248.3" y2="537.2" stroke="#b0b0b0" stroke-width="0.6"/>
<line x1="290.4" y1="534.7" x2="290.4" y2="537.2" stroke="#b0b0b0" stroke-width="0.6"/>
<line x1="332.5" y1="534.7" x2="332.5" y2="537.2" stroke="#b0b0b0" stroke-width="0.6"/>
<line x1="374.6" y1="534.7" x2="374.6" y2="537.2" stroke="#b0b0b0" stroke-width="0.6"/>
<line x1="416.7" y1="534.7" x2="416.7" y2="537.2" stroke="#b0b0b0" stroke-width="0.6"/>
<line x1="458.8" y1="534.7" x2="458.8" y2="537.2" stroke="#b0b0b0" stroke-width="0.6"/>
<line x1="500.9" y1="534.7" x2="500.9" y2="537.2" stroke="#b0b0b0" stroke-width="0.6"/>
<line x1="543" y1="534.7" x2="543" y2="537.2" stroke="#b0b0b0" stroke-width="0.6"/>
<line x1="585.1" y1="534.7" x2="585.1" y2="537.2" stroke="#b0b0b0" stroke-width="0.6"/>
<line x1="627.2" y1="534.7" x2="627.2" y2="537.2" stroke="#b0b0b0" stroke-width="0.6"/>
<line x1="669.3" y1="534.7" x2="669.3" y2="537.2" stroke="#b0b0b0" stroke-width="0.6"/>
<line x1="711.4" y1="534.7" x2="711.4" y2="537.2" stroke="#b0b0b0" stroke-width="0.6"/>
<line x1="753.5" y1="534.7" x2="753.5" y2="537.2" stroke="#b0b0b0" stroke-width="0.6"/>
<line x1="795.6" y1="534.7" x2="795.6" y2="537.2" stroke="#b0b0b0" stroke-width="0.6"/>
<text x="201.0" y="272.55" font-size="4.4" fill="#a9a9a9" text-anchor="end">1</text>
<text x="201.0" y="295.44" font-size="4.4" fill="#a9a9a9" text-anchor="end">2</text>
<text x="201.0" y="318.33" font-size="4.4" fill="#a9a9a9" text-anchor="end">3</text>
<text x="201.0" y="341.22" font-size="4.4" fill="#a9a9a9" text-anchor="end">4</text>
<text x="201.0" y="364.11" font-size="4.4" fill="#a9a9a9" text-anchor="end">5</text>
<text x="201.0" y="387" font-size="4.4" fill="#a9a9a9" text-anchor="end">6</text>
<text x="201.0" y="409.9" font-size="4.4" fill="#a9a9a9" text-anchor="end">7</text>
<text x="201.0" y="432.79" font-size="4.4" fill="#a9a9a9" text-anchor="end">8</text>
<text x="201.0" y="455.68" font-size="4.4" fill="#a9a9a9" text-anchor="end">9</text>
<text x="201.0" y="478.57" font-size="4.4" fill="#a9a9a9" text-anchor="end">10</text>
<text x="201.0" y="501.46" font-size="4.4" fill="#a9a9a9" text-anchor="end">11</text>
<text x="201.0" y="524.35" font-size="4.4" fill="#a9a9a9" text-anchor="end">12</text>
<text x="227.25" y="543.5" font-size="6" fill="#8c8c8c" text-anchor="middle">0-5</text>
<text x="269.35" y="543.5" font-size="6" fill="#8c8c8c" text-anchor="middle">5-10</text>
<text x="311.45" y="543.5" font-size="6" fill="#8c8c8c" text-anchor="middle">10-15</text>
<text x="353.55" y="543.5" font-size="6" fill="#8c8c8c" text-anchor="middle">15-20</text>
<text x="395.65" y="543.5" font-size="6" fill="#8c8c8c" text-anchor="middle">20-25</text>
<text x="437.75" y="543.5" font-size="6" fill="#8c8c8c" text-anchor="middle">25-30</text>
<text x="479.85" y="543.5" font-size="6" fill="#8c8c8c" text-anchor="middle">30-35</text>
<text x="521.95" y="543.5" font-size="6" fill="#8c8c8c" text-anchor="middle">35-40</text>
<text x="564.05" y="543.5" font-size="6" fill="#8c8c8c" text-anchor="middle">40-45</text>
<text x="606.15" y="543.5" font-size="6" fill="#8c8c8c" text-anchor="middle">45-50</text>
<text x="648.25" y="543.5" font-size="6" fill="#8c8c8c" text-anchor="middle">50-55</text>
<text x="690.35" y="543.5" font-size="6" fill="#8c8c8c" text-anchor="middle">55-60</text>
<text x="732.45" y="543.5" font-size="6" fill="#8c8c8c" text-anchor="middle">60-65</text>
<text x="774.55" y="543.5" font-size="6" fill="#8c8c8c" text-anchor="middle">65+</text>
</g>
</svg>
<div class="bottombar"></div>
</div>
</body>
</html>
